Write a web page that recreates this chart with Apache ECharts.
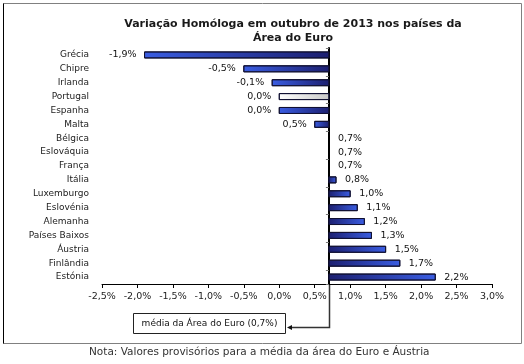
<!DOCTYPE html>
<html><head><meta charset="utf-8">
<script src="https://cdn.jsdelivr.net/npm/echarts@6/dist/echarts.min.js"></script>
<style>html,body{margin:0;padding:0;background:#fff}#c{width:524px;height:364px}</style>
</head><body><div id="c"></div>
<script>
const countries = ['Grécia','Chipre','Irlanda','Portugal','Espanha','Malta','Bélgica','Eslováquia','França','Itália','Luxemburgo','Eslovénia','Alemanha','Países Baixos','Áustria','Finlândia','Estónia'];
const values = [-1.9,-0.5,-0.1,0.0,0.0,0.5,0.7,0.7,0.7,0.8,1.0,1.1,1.2,1.3,1.5,1.7,2.2];
const euroAverage = 0.7;
const highlighted = 'Portugal';
const xMin = -2.5, xMax = 3.0, xStep = 0.5;
const titleText = 'Variação Homóloga em outubro de 2013 nos países da\nÁrea do Euro';
const annotationText = 'média da Área do Euro (0,7%)';
const noteText = 'Nota: Valores provisórios para a média da área do Euro e Áustria';

const FONT = '"DejaVu Sans", Verdana, sans-serif';
const fmt = v => v.toFixed(1).replace('.', ',') + '%';

const chart = echarts.init(document.getElementById('c'), null, {renderer: 'canvas'});

const option = {
  animation: false,
  backgroundColor: '#fff',
  title: {
    text: titleText, left: 288, top: 12, textAlign: 'center',
    textStyle: {fontFamily: FONT, fontSize: 11, fontWeight: 'bold', color: '#1a1a1a', lineHeight: 14}
  },
  grid: {left: 102, right: 32, top: 48, bottom: 80, containLabel: false, outerBoundsMode: 'none'},
  xAxis: [{
    type: 'value', min: xMin, max: xMax, interval: xStep, position: 'bottom',
    splitLine: {show: false},
    axisLine: {show: true, onZero: false, lineStyle: {color: '#000', width: 1}},
    axisTick: {show: true, length: 4, lineStyle: {color: '#000'}},
    axisLabel: {fontFamily: FONT, fontSize: 9.5, color: '#222', margin: 8, formatter: v => fmt(v)}
  }, {
    type: 'value', show: false, position: 'top',
    min: xMin - euroAverage, max: xMax - euroAverage
  }],
  yAxis: [{
    type: 'category', data: countries, inverse: true, position: 'left',
    axisLine: {show: false, onZero: false}, axisTick: {show: false},
    axisLabel: {fontFamily: FONT, fontSize: 9, color: '#222', margin: 13}
  }, {
    type: 'category', data: countries, inverse: true, position: 'left',
    axisLine: {show: true, onZero: true, onZeroAxisIndex: 1, lineStyle: {color: '#000', width: 2}},
    axisTick: {show: true, length: 3, lineStyle: {color: '#777'}},
    axisLabel: {show: false}
  }],
  series: [{
    type: 'custom', xAxisIndex: 0, yAxisIndex: 0,
    data: values.map((v, i) => [v, i]),
    renderItem: (params, api) => {
      const v = api.value(0), ci = api.value(1);
      const p0 = api.coord([euroAverage, ci]);
      const p1 = api.coord([v, ci]);
      const h = 6;
      const neg = v < euroAverage;
      const w = Math.abs(p1[0] - p0[0]);
      const children = [];
      const isHi = countries[ci] === highlighted;
      if (w > 0.5) {
        const stops = isHi
          ? [{offset: 0, color: '#c8c8c8'}, {offset: 1, color: '#ffffff'}]
          : [{offset: 0, color: '#1c1f70'}, {offset: 1, color: '#3a5de2'}];
        children.push({
          type: 'rect',
          shape: {x: Math.min(p0[0], p1[0]), y: p0[1] - h / 2, width: w, height: h},
          style: {
            fill: new echarts.graphic.LinearGradient(neg ? 1 : 0, 0, neg ? 0 : 1, 0, stops),
            stroke: '#111133', lineWidth: 1
          }
        });
      }
      children.push({
        type: 'text',
        style: {
          text: fmt(v), x: neg ? p1[0] - 8 : p1[0] + 9, y: p0[1],
          align: neg ? 'right' : 'left', verticalAlign: 'middle',
          font: '9.5px ' + FONT, fill: '#111'
        }
      });
      return {type: 'group', children};
    }
  }]
};
chart.setOption(option);

const ax = chart.convertToPixel({xAxisIndex: 0}, euroAverage);
const axisY = chart.convertToPixel({yAxisIndex: 0}, countries[countries.length - 1]) + 7;
chart.setOption({
  graphic: [
    {type: 'rect', shape: {x: 3.5, y: 3.5, width: 518, height: 340}, style: {fill: null, stroke: '#808080', lineWidth: 1}, silent: true},
    {type: 'line', shape: {x1: 3.5, y1: 3.5, x2: 3.5, y2: 343.5}, style: {stroke: '#000', lineWidth: 1}},
    {type: 'rect', shape: {x: 133.5, y: 313.5, width: 152, height: 20}, style: {fill: '#fff', stroke: '#222', lineWidth: 1}},
    {type: 'text', style: {text: annotationText, x: 209.5, y: 323.5, align: 'center', verticalAlign: 'middle', font: '9px ' + FONT, fill: '#111'}},
    {type: 'polyline', shape: {points: [[Math.round(ax) + 0.5, axisY], [Math.round(ax) + 0.5, 327.5], [291, 327.5]]}, style: {stroke: '#333', lineWidth: 1.5, fill: null}},
    {type: 'polygon', shape: {points: [[287, 327.5], [292, 325], [292, 330]]}, style: {fill: '#111'}},
    {type: 'text', style: {text: noteText, x: 89, y: 352, align: 'left', verticalAlign: 'middle', font: '10.5px ' + FONT, fill: '#333'}}
  ]
});
</script></body></html>
